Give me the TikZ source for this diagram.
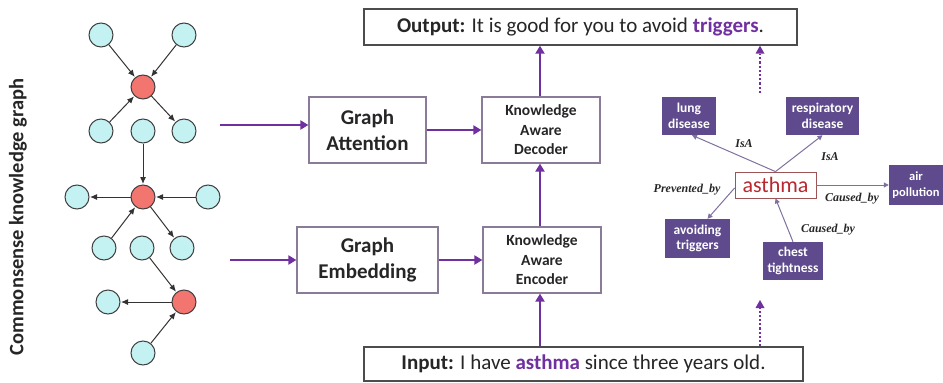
\documentclass[tikz,border=0pt]{standalone}
\usepackage{fontspec}
\setmainfont{Carlito}
\newfontfamily\tnr{Liberation Serif}
\usetikzlibrary{arrows.meta}
\definecolor{purp}{HTML}{7030A0}
\definecolor{kgbox}{HTML}{5E4A8C}
\definecolor{kgline}{HTML}{8070A0}
\definecolor{cyanf}{HTML}{C4F2F2}
\definecolor{redf}{HTML}{F2756F}
\definecolor{txt}{HTML}{262626}
\definecolor{boxb}{HTML}{8A7C98}
\definecolor{asthred}{HTML}{B8282E}
\tikzset{
  cnode/.style={circle,minimum size=24pt,inner sep=0pt,fill=cyanf,draw=black!75,line width=1pt},
  rnode/.style={cnode,fill=redf},
  gedge/.style={line width=1pt,draw=black!80,-{Latex[length=7pt,width=6pt]},shorten >=0.5pt},
  pline/.style={line width=2.5pt,draw=purp,-{Triangle[length=8pt,width=9pt]}},
  pdot/.style={line width=2.2pt,draw=purp,dotted,-{Triangle[length=8pt,width=9pt,line width=0pt]}},
  mbox/.style={draw=boxb,line width=1.2pt,fill=white,align=center,inner sep=0pt,text=txt,font=\bfseries},
  tbox/.style={draw=black!70,line width=1.4pt,fill=white,inner sep=0pt,text=txt,font=\fontsize{21}{25}\selectfont},
  kbox/.style={fill=kgbox,text=white,align=center,inner sep=0pt,font=\bfseries\fontsize{13.5}{15.5}\selectfont},
  kedge/.style={line width=1pt,draw=kgline,-{Triangle[length=5pt,width=5pt]}},
  klab/.style={font=\tnr\bfseries\itshape\fontsize{12}{14}\selectfont,text=black!85,inner sep=0pt}
}
\begin{document}
\begin{tikzpicture}[x=1pt,y=-1pt]
\path[use as bounding box] (0,0) rectangle (943,383);
\clip (0,0) rectangle (943,383);
% vertical label
\node[rotate=90,font=\bfseries\fontsize{20.5}{24}\selectfont,text=txt] (vlab) at (18,217) {Commonsense knowledge graph};
% graph nodes
\node[cnode] (a1) at (101,35) {};
\node[cnode] (a2) at (184,35) {};
\node[rnode] (r1) at (143,87) {};
\node[cnode] (b1) at (101,131) {};
\node[cnode] (b2) at (143,131) {};
\node[cnode] (b3) at (184,131) {};
\node[rnode] (r2) at (143,197) {};
\node[cnode] (c1) at (77,197) {};
\node[cnode] (c2) at (208,197) {};
\node[cnode] (d1) at (104,248) {};
\node[cnode] (d2) at (142,248) {};
\node[cnode] (d3) at (182,248) {};
\node[rnode] (r3) at (184,302) {};
\node[cnode] (e1) at (108,302) {};
\node[cnode] (f1) at (143,353) {};
\draw[gedge] (a1) -- (r1);
\draw[gedge] (a2) -- (r1);
\draw[gedge] (b1) -- (r1);
\draw[gedge] (r1) -- (b3);
\draw[gedge] (b2) -- (r2);
\draw[gedge] (r2) -- (c1);
\draw[gedge] (c2) -- (r2);
\draw[gedge] (d1) -- (r2);
\draw[gedge] (r2) -- (d3);
\draw[gedge] (d2) -- (r3);
\draw[gedge] (r3) -- (e1);
\draw[gedge] (f1) -- (r3);
% main boxes
\node[mbox,minimum width=117pt,minimum height=66pt,font=\bfseries\fontsize{21}{26}\selectfont] (ga) at (367.5,130) {Graph\\Attention};
\node[mbox,minimum width=141pt,minimum height=66pt,font=\bfseries\fontsize{21}{26}\selectfont] (ge) at (367.5,260) {Graph\\Embedding};
\node[mbox,minimum width=118pt,minimum height=66pt,font=\bfseries\fontsize{15.5}{19.5}\selectfont] (dec) at (541,130) {Knowledge\\Aware\\Decoder};
\node[mbox,minimum width=118pt,minimum height=66pt,font=\bfseries\fontsize{15.5}{19.5}\selectfont] (enc) at (542,260) {Knowledge\\Aware\\Encoder};
\node[tbox,minimum width=433pt,minimum height=36pt] (out) at (580.5,27) {\textbf{Output:} It is good for you to avoid \textbf{\textcolor{purp}{triggers}}.};
\node[tbox,minimum width=439pt,minimum height=34pt] (inp) at (583.5,364) {\textbf{Input:} I have \textbf{\textcolor{purp}{asthma}} since three years old.};
% purple arrows
\coordinate (s1) at (220,125);
\coordinate (s2) at (230,260);
\draw[pline] (s1) -- (s1 -| ga.west);
\draw[pline] (s2) -- (s2 -| ge.west);
\draw[pline] (ga.east) -- (ga.east -| dec.west);
\draw[pline] (ge.east) -- (ge.east -| enc.west);
\draw[pline] (inp.north -| 540,0) -- (enc.south -| 540,0);
\draw[pline] (enc.north -| 540,0) -- (dec.south -| 540,0);
\draw[pline] (dec.north -| 540,0) -- (out.south -| 540,0);
% knowledge graph
\node[kbox,minimum width=54pt,minimum height=38pt] (lung) at (689,116) {lung\\disease};
\node[kbox,minimum width=73pt,minimum height=38pt] (resp) at (822.5,116) {respiratory\\disease};
\node[draw=asthred!50!gray,line width=0.8pt,fill=white,minimum width=81pt,minimum height=26pt,inner sep=0pt,text=asthred,font=\fontsize{22}{24}\selectfont] (ast) at (775.5,185) {asthma};
\node[kbox,minimum width=54pt,minimum height=40pt,font=\bfseries\fontsize{12.5}{15.5}\selectfont] (air) at (916,185) {air\\pollution};
\node[kbox,minimum width=65pt,minimum height=39pt] (avo) at (697.5,238.5) {avoiding\\triggers};
\node[kbox,minimum width=60pt,minimum height=38pt] (chest) at (793,261) {chest\\tightness};
\draw[kedge] (ast.north) -- ([xshift=3pt]lung.south);
\draw[kedge] (ast.north) -- (resp.south);
\draw[kedge] (ast.east) -- (air.west);
\draw[kedge] ([yshift=-3pt]ast.west) -- ([xshift=10pt]avo.north);
\draw[kedge] (chest.north) -- (ast.south);
\node[klab] (l1) at (744,144) {IsA};
\node[klab] (l2) at (830,157) {IsA};
\node[klab] (l3) at (687,190) {Prevented\_by};
\node[klab] (l4) at (852,199) {Caused\_by};
\node[klab] (l5) at (828,230) {Caused\_by};
% dotted arrows
\coordinate (dt) at (760,93);
\coordinate (db) at (760,300);
\draw[pdot] (dt) -- (out.south -| dt);
\draw[pdot] (inp.north -| db) -- (db);
\end{tikzpicture}
\end{document}
